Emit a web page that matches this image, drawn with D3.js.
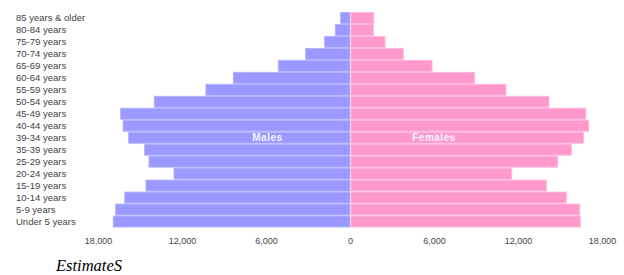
<!DOCTYPE html>
<html lang="en">
<head>
    <meta charset="UTF-8">
    <script src="https://d3js.org/d3.v7.min.js"></script>
    <title>Population pyramid</title>
    <style>
        body { margin: 0; background: #fff; }
    </style>
</head>
<body>
    <script>
        // age groups, top to bottom (labels as printed on the chart)
        var ageGroups = ["85 years & older", "80-84 years", "75-79 years", "70-74 years",
            "65-69 years", "60-64 years", "55-59 years", "50-54 years", "45-49 years",
            "40-44 years", "39-34 years", "35-39 years", "25-29 years", "20-24 years",
            "15-19 years", "10-14 years", "5-9 years", "Under 5 years"]
        var males = [670, 1050, 1810, 3160, 5120, 8330, 10290, 13980, 16380,
            16210, 15810, 14670, 14360, 12570, 14570, 16090, 16740, 16910]
        var females = [1700, 1670, 2500, 3810, 5860, 8900, 11140, 14210, 16840,
            17050, 16670, 15810, 14830, 11550, 14020, 15450, 16410, 16450]
        var tickValues = [-18000, -12000, -6000, 0, 6000, 12000, 18000]
        var seriesLabels = ["Males", "Females"]

        var width = 624
        var height = 275

        var svg = d3.select("body")
            .append("svg")
            .attr("width", width)
            .attr("height", height)

        var x = d3.scaleLinear()
            .domain([-18000, 18000])
            .range([98, 602])

        var y = d3.scaleBand()
            .domain(ageGroups)
            .range([12, 227.5])
            .padding(0)

        // male bars (left of zero)
        svg.selectAll("rect.male")
            .data(males)
            .enter()
            .append("rect")
            .attr("class", "male")
            .attr("x", function (d) { return x(-d) })
            .attr("y", function (d, i) { return y(ageGroups[i]) + 0.5 })
            .attr("width", function (d) { return x(0) - x(-d) })
            .attr("height", y.bandwidth() - 1)
            .attr("fill", "#9999ff")
            .attr("stroke", "#b3b3ff")
            .attr("stroke-width", 1)

        // female bars (right of zero)
        svg.selectAll("rect.female")
            .data(females)
            .enter()
            .append("rect")
            .attr("class", "female")
            .attr("x", x(0) + 1)
            .attr("y", function (d, i) { return y(ageGroups[i]) + 0.5 })
            .attr("width", function (d) { return x(d) - x(0) - 1 })
            .attr("height", y.bandwidth() - 1)
            .attr("fill", "#ff99cc")
            .attr("stroke", "#ffb8dc")
            .attr("stroke-width", 1)

        // age labels
        svg.selectAll("text.age")
            .data(ageGroups)
            .enter()
            .append("text")
            .attr("class", "age")
            .attr("x", 16)
            .attr("y", function (d) { return y(d) + y.bandwidth() / 2 })
            .attr("dy", "0.35em")
            .attr("font-family", "Liberation Sans, Arial, sans-serif")
            .attr("font-size", "9.5px")
            .attr("fill", "#444")
            .text(function (d) { return d })

        // series labels inside bars
        var labelRow = ageGroups[10]
        svg.selectAll("text.series")
            .data(seriesLabels)
            .enter()
            .append("text")
            .attr("class", "series")
            .attr("x", function (d, i) { return i == 0 ? x(-5900) : x(6000) })
            .attr("y", y(labelRow) + y.bandwidth() / 2)
            .attr("dy", "0.35em")
            .attr("text-anchor", "middle")
            .attr("font-family", "Liberation Sans, Arial, sans-serif")
            .attr("font-size", "10px")
            .attr("font-weight", "bold")
            .attr("letter-spacing", "0.5px")
            .attr("fill", "#f4f4ff")
            .text(function (d) { return d })

        // bottom axis, labels only
        var axis = d3.axisBottom(x)
            .tickValues(tickValues)
            .tickSize(0)
            .tickFormat(function (d) { return d3.format(",")(Math.abs(d)) })

        var g = svg.append("g")
            .attr("transform", "translate(0,235)")
            .call(axis)
        g.select(".domain").remove()
        g.selectAll("text")
            .attr("font-family", "Liberation Sans, Arial, sans-serif")
            .attr("font-size", "9px")
            .attr("fill", "#444")

        svg.append("text")
            .attr("x", 56)
            .attr("y", 271)
            .attr("font-family", "Liberation Serif, Times New Roman, serif")
            .attr("font-style", "italic")
            .attr("font-size", "16.5px")
            .attr("fill", "#000")
            .text("EstimateS")
    </script>
</body>
</html>
